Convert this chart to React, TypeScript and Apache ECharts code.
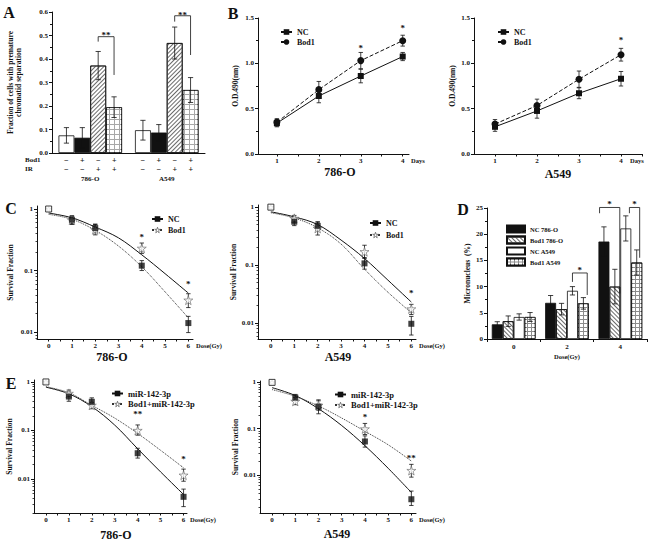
import React, { useEffect, useRef } from 'react';
import * as echarts from 'echarts';

const FONT = '"Liberation Serif", "Times New Roman", serif';
const INK = '#111111';
const GREY = '#666666';

// ---------- Panel A ----------
const aCategories = ['786-O', 'A549'];
const aSeriesNames = ['Bod1− IR−', 'Bod1+ IR−', 'Bod1− IR+', 'Bod1+ IR+'];
const aValues = [[0.075, 0.097], [0.065, 0.087], [0.372, 0.468], [0.195, 0.268]];
const aErrors = [[0.033, 0.042], [0.043, 0.034], [0.06, 0.068], [0.044, 0.053]];
const aBod1Row = ['−', '+', '−', '+'];
const aIRRow = ['−', '−', '+', '+'];
const aBrackets = [[0, 2, 3, 0.495, 0.474, 0.332], [1, 2, 3, 0.584, 0.559, 0.417]];
const aMarks = [[0, 2.5, 0.506], [1, 2.5, 0.592]];
const aMarkTexts = ['**', '**'];

// ---------- Panel B ----------
const bDays = [1, 2, 3, 4];
const b786NC = [0.34, 0.64, 0.86, 1.075];
const b786NCErr = [0.04, 0.075, 0.075, 0.045];
const b786Bod1 = [0.35, 0.71, 1.03, 1.25];
const b786Bod1Err = [0.04, 0.09, 0.09, 0.06];
const bA549NC = [0.3, 0.475, 0.67, 0.83];
const bA549NCErr = [0.05, 0.08, 0.06, 0.08];
const bA549Bod1 = [0.33, 0.535, 0.825, 1.095];
const bA549Bod1Err = [0.05, 0.07, 0.09, 0.07];
const b786Marks = [[3, 1.18], [4, 1.4]];
const bA549Marks = [[4, 1.27]];

// ---------- Panels C / E (survival) ----------
const cDoses = [0, 1, 2, 4, 6];
const fitDoses = [0, 1, 2, 3, 4, 5, 6];
const doseTicks = [0, 0.5, 1, 1.5, 2, 2.5, 3, 3.5, 4, 4.5, 5, 5.5, 6];

const c786NC = [1, 0.67, 0.49, 0.12, 0.014];
const c786NCLo = [1, 0.56, 0.42, 0.1, 0.0098];
const c786NCHi = [1, 0.78, 0.57, 0.145, 0.018];
const c786Bod1 = [1, 0.66, 0.46, 0.23, 0.033];
const c786Bod1Lo = [1, 0.58, 0.38, 0.19, 0.025];
const c786Bod1Hi = [1, 0.76, 0.56, 0.28, 0.042];
const c786NCFit = [0.86, 0.72, 0.51, 0.34, 0.18, 0.089, 0.043];
const c786Bod1Fit = [0.82, 0.68, 0.45, 0.25, 0.115, 0.045, 0.017];
const c786Marks = [[4, 0.37], [6, 0.062]];
const c786MarkTexts = ['*', '*'];

const cA549NC = [1, 0.56, 0.475, 0.107, 0.0097];
const cA549NCLo = [1, 0.48, 0.4, 0.085, 0.0062];
const cA549NCHi = [1, 0.64, 0.56, 0.135, 0.013];
const cA549Bod1 = [1, 0.64, 0.43, 0.17, 0.0175];
const cA549Bod1Lo = [1, 0.55, 0.33, 0.13, 0.014];
const cA549Bod1Hi = [1, 0.72, 0.55, 0.22, 0.021];
const cA549NCFit = [0.83, 0.68, 0.5, 0.27, 0.13, 0.055, 0.023];
const cA549Bod1Fit = [0.8, 0.65, 0.44, 0.23, 0.085, 0.034, 0.015];
const cA549Marks = [[6, 0.034]];
const cA549MarkTexts = ['*'];

const e786MiR = [1, 0.5, 0.39, 0.034, 0.0043];
const e786MiRLo = [1, 0.4, 0.33, 0.027, 0.0027];
const e786MiRHi = [1, 0.62, 0.47, 0.043, 0.0062];
const e786Bod1MiR = [1, 0.58, 0.33, 0.1, 0.012];
const e786Bod1MiRLo = [1, 0.5, 0.28, 0.08, 0.009];
const e786Bod1MiRHi = [1, 0.68, 0.38, 0.13, 0.016];
const e786MiRFit = [0.78, 0.57, 0.31, 0.129, 0.042, 0.014, 0.0048];
const e786Bod1MiRFit = [0.8, 0.6, 0.33, 0.18, 0.087, 0.039, 0.017];
const e786Marks = [[4, 0.23], [6, 0.0266]];
const e786MarkTexts = ['**', '*'];

const eA549MiR = [1, 0.47, 0.3, 0.053, 0.003];
const eA549MiRLo = [1, 0.4, 0.21, 0.04, 0.0022];
const eA549MiRHi = [1, 0.55, 0.42, 0.07, 0.0045];
const eA549Bod1MiR = [1, 0.39, 0.32, 0.099, 0.0125];
const eA549Bod1MiRLo = [1, 0.33, 0.25, 0.075, 0.009];
const eA549Bod1MiRHi = [1, 0.47, 0.4, 0.13, 0.017];
const eA549MiRFit = [0.77, 0.52, 0.27, 0.117, 0.043, 0.014, 0.0042];
const eA549Bod1MiRFit = [0.7, 0.5, 0.31, 0.17, 0.088, 0.045, 0.02];
const eA549Marks = [[4, 0.186], [6, 0.025]];
const eA549MarkTexts = ['*', '**'];

// ---------- Panel D ----------
const dCategories = ['0', '2', '4'];
const dSeriesNames = ['NC 786-O', 'Bod1 786-O', 'NC A549', 'Bod1 A549'];
const dValues = [[2.8, 6.9, 18.6], [3.4, 5.7, 10.0], [4.2, 9.2, 21.1], [4.2, 6.8, 14.6]];
const dErrors = [[0.5, 1.4, 2.8], [1.0, 1.1, 3.3], [0.6, 0.8, 2.4], [0.85, 1.1, 2.4]];
const dBrackets = [[1, 2, 3.35, 12.6, 10.9, 8.4], [2, -0.4, 1.45, 25.1, 24.0, 8.7], [2, 2.33, 3.27, 25.1, 24.0, 15.5]];
const dMarks = [[1, 2.67, 13.3], [2, 0.52, 25.9], [2, 2.8, 25.9]];
const dMarkTexts = ['*', '*', '*'];

const STAR = 'path://M50,2 L61,36 L97,36 L68,57 L79,92 L50,71 L21,92 L32,57 L3,36 L39,36 Z';
const L = (v: number) => Math.log10(v);

const txt = (size: number) => ({ fontFamily: FONT, fontWeight: 'bold' as const, fontSize: size, color: INK });
const axLine = { color: INK, width: 1 };

function errGroup(cx: number, y1: number, y2: number, cap = 2.2) {
  const st = { stroke: INK, lineWidth: 0.8 };
  if (Math.abs(y1 - y2) < 0.5) return { type: 'group', children: [] };
  return {
    type: 'group',
    children: [
      { type: 'line', shape: { x1: cx, y1, x2: cx, y2 }, style: st },
      { type: 'line', shape: { x1: cx - cap, y1, x2: cx + cap, y2: y1 }, style: st },
      { type: 'line', shape: { x1: cx - cap, y1: y2, x2: cx + cap, y2 }, style: st },
    ],
  };
}

function errSeries(g: number, pts: number[][]) {
  return {
    type: 'custom', xAxisIndex: g, yAxisIndex: g, silent: true, z: 3, data: pts,
    renderItem: (_p: any, api: any) => {
      const a = api.coord([api.value(0), api.value(1)]);
      const b = api.coord([api.value(0), api.value(2)]);
      return errGroup(a[0], a[1], b[1]);
    },
  };
}

function markSeries(g: number, pts: number[][], texts: string[], size = 9) {
  return {
    type: 'custom', xAxisIndex: g, yAxisIndex: g, silent: true, z: 6, data: pts,
    renderItem: (p: any, api: any) => {
      const c = api.coord([api.value(0), api.value(1)]);
      return {
        type: 'text', x: c[0], y: c[1] + 1,
        style: { text: texts[p.dataIndex], fill: INK, font: `bold ${size}px ${FONT}`, align: 'center', verticalAlign: 'middle' },
      };
    },
  };
}

function barX(api: any, ci: number, pos: number, n: number, gap: number) {
  const band = api.size([1, 0])[0];
  const w = (band * (1 - gap)) / n;
  return api.coord([ci, 0])[0] + (pos - (n - 1) / 2) * w;
}

function barErrSeries(g: number, values: number[][], errors: number[][], gap: number) {
  const n = values.length;
  const data: number[][] = [];
  values.forEach((vals, si) => vals.forEach((v, ci) => data.push([ci, v - errors[si][ci], v + errors[si][ci], si])));
  return {
    type: 'custom', xAxisIndex: g, yAxisIndex: g, silent: true, z: 4, data,
    renderItem: (_p: any, api: any) => {
      const ci = api.value(0);
      const cx = barX(api, ci, api.value(3), n, gap);
      const a = api.coord([ci, api.value(1)]);
      const b = api.coord([ci, api.value(2)]);
      return errGroup(cx, a[1], b[1], 2.6);
    },
  };
}

function bracketSeries(g: number, brackets: number[][], n: number, gap: number) {
  return {
    type: 'custom', xAxisIndex: g, yAxisIndex: g, silent: true, z: 5, data: brackets,
    renderItem: (_p: any, api: any) => {
      const ci = api.value(0);
      const xl = barX(api, ci, api.value(1), n, gap);
      const xr = barX(api, ci, api.value(2), n, gap);
      const yt = api.coord([ci, api.value(3)])[1];
      const yl = api.coord([ci, api.value(4)])[1];
      const yr = api.coord([ci, api.value(5)])[1];
      return {
        type: 'polyline',
        shape: { points: [[xl, yl], [xl, yt], [xr, yt], [xr, yr]] },
        style: { stroke: INK, lineWidth: 0.8, fill: 'none' },
      };
    },
  };
}

function barMarkSeries(g: number, marks: number[][], texts: string[], n: number, gap: number) {
  return {
    type: 'custom', xAxisIndex: g, yAxisIndex: g, silent: true, z: 6, data: marks,
    renderItem: (p: any, api: any) => {
      const ci = api.value(0);
      const x = barX(api, ci, api.value(1), n, gap);
      const y = api.coord([ci, api.value(2)])[1];
      return {
        type: 'text', x, y: y + 1,
        style: { text: texts[p.dataIndex], fill: INK, font: `bold 9px ${FONT}`, align: 'center', verticalAlign: 'middle' },
      };
    },
  };
}

function valueX(g: number, min: number, max: number, labels: number[], ticks: number[], name: string, nameGap: number) {
  return {
    type: 'value', gridIndex: g, min, max,
    axisLine: { show: true, onZero: false, lineStyle: axLine },
    axisTick: { show: true, length: 2.5, customValues: ticks, lineStyle: axLine },
    axisLabel: { customValues: labels, margin: 3, ...txt(7) },
    splitLine: { show: false },
    name, nameLocation: 'end', nameGap,
    nameTextStyle: { ...txt(6.5), verticalAlign: 'top', padding: [3, 0, 0, 0] },
  };
}

const logLabel = (v: number) => (Math.abs(v) < 1e-9 ? '1' : Math.abs(v + 1) < 1e-9 ? '0.1' : Math.abs(v + 2) < 1e-9 ? '0.01' : '');

function logY(g: number, min: number, max: number, nameGap: number) {
  return {
    type: 'value', gridIndex: g, min, max, position: 'left',
    axisLine: { show: true, onZero: false, lineStyle: axLine },
    axisTick: { show: true, length: 3, customValues: [-2, -1, 0], lineStyle: axLine },
    axisLabel: { customValues: [-2, -1, 0], formatter: logLabel, margin: 4, ...txt(7) },
    splitLine: { show: false },
    name: 'Survival Fraction', nameLocation: 'middle', nameGap,
    nameTextStyle: txt(7.5),
  };
}

function minorLogY(g: number, min: number, max: number) {
  const vals: number[] = [];
  for (let e = -3; e <= 0; e++) for (let k = 2; k <= 9; k++) {
    const v = e + Math.log10(k);
    if (v > min && v < max) vals.push(v);
  }
  return {
    type: 'value', gridIndex: g, min, max, position: 'left', offset: 0,
    axisLine: { show: false, onZero: false },
    axisTick: { show: true, length: 1.5, customValues: vals, lineStyle: { color: INK, width: 0.8 } },
    axisLabel: { show: false },
    splitLine: { show: false },
  };
}

function survival(g: number, names: string[], sq: number[], sqLo: number[], sqHi: number[], st: number[], stLo: number[], stHi: number[], fitSq: number[], fitSt: number[], marks: number[][], markTexts: string[]) {
  const errs: number[][] = [];
  cDoses.forEach((d, i) => { errs.push([d, L(sqLo[i]), L(sqHi[i])]); errs.push([d, L(stLo[i]), L(stHi[i])]); });
  return [
    {
      name: names[0], type: 'line', xAxisIndex: g, yAxisIndex: g, silent: true, z: 2,
      data: fitDoses.map((d, i) => [d, L(fitSq[i])]), smooth: 0.35, showSymbol: false,
      symbol: 'rect', symbolSize: 6, lineStyle: { color: INK, width: 1 }, itemStyle: { color: INK },
    },
    {
      name: names[1], type: 'line', xAxisIndex: g, yAxisIndex: g, silent: true, z: 2,
      data: fitDoses.map((d, i) => [d, L(fitSt[i])]), smooth: 0.35, showSymbol: false,
      symbol: STAR, symbolSize: 9, lineStyle: { color: '#333', width: 1, type: 'dotted' },
      itemStyle: { color: '#fff', borderColor: GREY, borderWidth: 0.8 },
    },
    errSeries(g, errs),
    {
      type: 'scatter', xAxisIndex: g, yAxisIndex: g, silent: true, z: 4, symbol: STAR,
      data: cDoses.map((d, i) => ({ value: [d, L(st[i])], symbolSize: i === 0 ? 5 : 9 })),
      itemStyle: { color: '#fff', borderColor: GREY, borderWidth: 0.8 },
    },
    {
      type: 'scatter', xAxisIndex: g, yAxisIndex: g, silent: true, z: 5, symbol: 'rect', symbolSize: 6,
      data: cDoses.map((d, i) => (i === 0
        ? { value: [d, L(sq[i])], itemStyle: { color: '#fff', borderColor: INK, borderWidth: 1 } }
        : { value: [d, L(sq[i])] })),
      itemStyle: { color: INK },
    },
    markSeries(g, marks.map((m) => [m[0], L(m[1])]), markTexts),
  ];
}

function growth(g: number, tag: string, nc: number[], ncErr: number[], bod: number[], bodErr: number[], marks: number[][]) {
  const errs: number[][] = [];
  bDays.forEach((d, i) => { errs.push([d, nc[i] - ncErr[i], nc[i] + ncErr[i]]); errs.push([d, bod[i] - bodErr[i], bod[i] + bodErr[i]]); });
  return [
    {
      name: 'NC@' + tag, type: 'line', xAxisIndex: g, yAxisIndex: g, silent: true, z: 3,
      data: bDays.map((d, i) => [d, nc[i]]), symbol: 'rect', symbolSize: 6,
      lineStyle: { color: INK, width: 1 }, itemStyle: { color: INK },
    },
    {
      name: 'Bod1@' + tag, type: 'line', xAxisIndex: g, yAxisIndex: g, silent: true, z: 3,
      data: bDays.map((d, i) => [d, bod[i]]), symbol: 'circle', symbolSize: 7,
      lineStyle: { color: INK, width: 1, type: 'dashed' }, itemStyle: { color: INK },
    },
    errSeries(g, errs),
    markSeries(g, marks, marks.map(() => '*')),
  ];
}

const diagDecal = (rot: number) => ({ symbol: 'rect', symbolSize: 1, color: '#6a6a6a', dashArrayX: [1, 0], dashArrayY: [1, 2], rotation: rot });
const gridDecal = (size: number) => ({ symbol: 'rect', symbolSize: 1, color: '#ffffff', dashArrayX: [size, 1], dashArrayY: [size, 1], rotation: 0 });

const aStyles = [
  { color: '#fff' },
  { color: INK },
  { color: '#fff', decal: diagDecal(-Math.PI / 4) },
  { color: '#a8a8a8', decal: gridDecal(3.5) },
];
const dStyles = [
  { color: INK },
  { color: '#fff', decal: diagDecal(Math.PI / 4) },
  { color: '#fff' },
  { color: '#8c8c8c', decal: gridDecal(3) },
];

function legendAt(left: number, top: number, data: any[], fontSize: number, itemWidth: number, itemGap: number, icon?: string) {
  return {
    left, top, orient: 'vertical', padding: 0, itemWidth, itemHeight: 7, itemGap, selectedMode: false,
    icon, data, formatter: (n: string) => n.split('@')[0],
    textStyle: { ...txt(fontSize), padding: 0 },
  };
}

function gtext(text: string, x: number, y: number, size: number, align = 'center') {
  return { type: 'text', x, y, silent: true, style: { text, fill: INK, font: `bold ${size}px ${FONT}`, align, verticalAlign: 'middle' } };
}

function buildOption(): any {
  const grid = (left: number, top: number, width: number, height: number) => ({ left, top, width, height, containLabel: false, outerBoundsMode: 'none' });
  const yName = (name: string, gap: number) => ({ name, nameLocation: 'middle', nameGap: gap, nameTextStyle: { ...txt(7.5), lineHeight: 8.5 } });

  const C1 = [-2.113, 0.049], C2 = [-2.276, 0.037], E1 = [-2.7, 0.04], E2 = [-2.82, 0.03];

  const xAxis = [
    {
      type: 'category', gridIndex: 0, data: aCategories,
      axisLine: { show: true, lineStyle: axLine }, axisTick: { show: false },
      axisLabel: {
        interval: 0, margin: 3, color: INK,
        formatter: (v: string) => `{s|${aBod1Row.join('}{s|')}}\n{s|${aIRRow.join('}{s|')}}\n{g|${v}}`,
        rich: {
          s: { width: 16, align: 'center', fontSize: 8, lineHeight: 9, fontFamily: FONT, fontWeight: 'bold', color: INK },
          g: { fontSize: 7, lineHeight: 10, fontFamily: FONT, fontWeight: 'bold', color: INK },
        },
      },
    },
    valueX(1, 0.55, 4.15, bDays, [1, 1.5, 2, 2.5, 3, 3.5, 4], 'Days', 2),
    valueX(2, 0.5, 4.5, bDays, [1, 1.5, 2, 2.5, 3, 3.5, 4, 4.5], 'Days', -12),
    valueX(3, -0.5, 6.2, fitDoses, doseTicks, 'Dose(Gy)', 3),
    valueX(4, -0.55, 6.2, fitDoses, doseTicks, 'Dose(Gy)', 3),
    {
      type: 'category', gridIndex: 5, data: dCategories,
      axisLine: { show: true, lineStyle: axLine }, axisTick: { show: true, length: 3, lineStyle: axLine },
      axisLabel: { margin: 4, ...txt(7) },
      name: 'Dose(Gy)', nameLocation: 'middle', nameGap: 14, nameTextStyle: txt(6.5),
    },
    valueX(6, -0.52, 6.15, fitDoses, doseTicks, 'Dose(Gy)', 3),
    valueX(7, -0.52, 6.2, fitDoses, doseTicks, 'Dose(Gy)', 3),
  ];

  const linY = (g: number, max: number, interval: number, fmt: (v: number) => string, name: string, gap: number) => ({
    type: 'value', gridIndex: g, min: 0, max, interval, position: 'left',
    axisLine: { show: true, onZero: false, lineStyle: axLine },
    axisTick: { show: true, length: 3, lineStyle: axLine },
    minorTick: { show: true, splitNumber: 2, length: 2, lineStyle: axLine },
    axisLabel: { formatter: fmt, margin: 4, ...txt(7) },
    splitLine: { show: false },
    ...yName(name, gap),
  });

  const yAxis = [
    linY(0, 0.6, 0.1, (v) => v.toFixed(1), 'Fraction of cells with premature\nchromatid separation', 29),
    linY(1, 1.5, 0.5, (v) => v.toFixed(1), 'O.D.490(nm)', 18),
    linY(2, 1.5, 0.5, (v) => v.toFixed(1), 'O.D.490(nm)', 17),
    logY(3, C1[0], C1[1], 23),
    logY(4, C2[0], C2[1], 18),
    linY(5, 25, 5, (v) => String(Math.round(v)), 'Micronucleus  (%)', 14),
    logY(6, E1[0], E1[1], 20),
    logY(7, E2[0], E2[1], 14),
    minorLogY(3, C1[0], C1[1]),
    minorLogY(4, C2[0], C2[1]),
    minorLogY(6, E1[0], E1[1]),
    minorLogY(7, E2[0], E2[1]),
  ];

  const series: any[] = [];
  // A
  aValues.forEach((vals, i) => series.push({
    name: aSeriesNames[i], type: 'bar', xAxisIndex: 0, yAxisIndex: 0, data: vals, silent: true,
    barGap: '0%', barCategoryGap: '17%', z: 2,
    itemStyle: { ...aStyles[i], borderColor: INK, borderWidth: 0.8 },
  }));
  series.push(barErrSeries(0, aValues, aErrors, 0.17));
  series.push(bracketSeries(0, aBrackets, 4, 0.17));
  series.push(barMarkSeries(0, aMarks, aMarkTexts, 4, 0.17));
  // B
  series.push(...growth(1, 'B1', b786NC, b786NCErr, b786Bod1, b786Bod1Err, b786Marks));
  series.push(...growth(2, 'B2', bA549NC, bA549NCErr, bA549Bod1, bA549Bod1Err, bA549Marks));
  // C
  series.push(...survival(3, ['NC@C1', 'Bod1@C1'], c786NC, c786NCLo, c786NCHi, c786Bod1, c786Bod1Lo, c786Bod1Hi, c786NCFit, c786Bod1Fit, c786Marks, c786MarkTexts));
  series.push(...survival(4, ['NC@C2', 'Bod1@C2'], cA549NC, cA549NCLo, cA549NCHi, cA549Bod1, cA549Bod1Lo, cA549Bod1Hi, cA549NCFit, cA549Bod1Fit, cA549Marks, cA549MarkTexts));
  // D
  dValues.forEach((vals, i) => series.push({
    name: dSeriesNames[i] + '@D', type: 'bar', xAxisIndex: 5, yAxisIndex: 5, data: vals, silent: true,
    barGap: '0%', barCategoryGap: '18%', z: 2,
    itemStyle: { ...dStyles[i], borderColor: INK, borderWidth: 0.8 },
  }));
  series.push(barErrSeries(5, dValues, dErrors, 0.18));
  series.push(bracketSeries(5, dBrackets, 4, 0.18));
  series.push(barMarkSeries(5, dMarks, dMarkTexts, 4, 0.18));
  // E
  series.push(...survival(6, ['miR-142-3p@E1', 'Bod1+miR-142-3p@E1'], e786MiR, e786MiRLo, e786MiRHi, e786Bod1MiR, e786Bod1MiRLo, e786Bod1MiRHi, e786MiRFit, e786Bod1MiRFit, e786Marks, e786MarkTexts));
  series.push(...survival(7, ['miR-142-3p@E2', 'Bod1+miR-142-3p@E2'], eA549MiR, eA549MiRLo, eA549MiRHi, eA549Bod1MiR, eA549Bod1MiRLo, eA549Bod1MiRHi, eA549MiRFit, eA549Bod1MiRFit, eA549Marks, eA549MarkTexts));

  const starLegendItem = (name: string) => ({ name, itemStyle: { borderWidth: 0.8 } });

  const legend = [
    legendAt(280, 28, ['NC@B1', 'Bod1@B1'], 8, 11, 2),
    legendAt(497, 28, ['NC@B2', 'Bod1@B2'], 8, 11, 2),
    legendAt(151, 215, [{ name: 'NC@C1' }, starLegendItem('Bod1@C1')], 8, 11, 3),
    legendAt(369, 219, [{ name: 'NC@C2' }, starLegendItem('Bod1@C2')], 8, 11, 4),
    legendAt(506, 224.5, dSeriesNames.map((n) => n + '@D'), 6.5, 18, 2, 'rect'),
    legendAt(111, 389, [{ name: 'miR-142-3p@E1' }, starLegendItem('Bod1+miR-142-3p@E1')], 8.5, 11, 1.5),
    legendAt(334, 390, [{ name: 'miR-142-3p@E2' }, starLegendItem('Bod1+miR-142-3p@E2')], 8.5, 11, 1.5),
  ];

  const graphic = [
    gtext('A', 9, 12, 16), gtext('B', 233, 13, 16), gtext('C', 11, 208, 16), gtext('D', 463, 209, 16), gtext('E', 11, 383, 16),
    gtext('786-O', 340, 172, 12), gtext('A549', 558, 174, 12),
    gtext('786-O', 112, 357, 12), gtext('A549', 338, 357, 12),
    gtext('786-O', 116, 535, 12), gtext('A549', 337, 534, 12),
    gtext('Bod1', 25, 160, 7, 'left'), gtext('IR', 25, 169, 7, 'left'),
  ];

  return {
    animation: false,
    backgroundColor: '#ffffff',
    textStyle: { fontFamily: FONT },
    grid: [
      grid(52, 12, 153, 141),
      grid(258, 18, 151, 136),
      grid(474, 18, 168, 136),
      grid(37, 206, 156, 133),
      grid(258, 205, 158, 134),
      grid(487, 208, 160, 131),
      grid(34, 380, 153, 133),
      grid(260, 381, 156, 132),
    ],
    xAxis, yAxis, series, legend, graphic,
  };
}

export default function App() {
  const ref = useRef<HTMLDivElement>(null);
  useEffect(() => {
    const chart = echarts.init(ref.current as HTMLDivElement, null, { renderer: 'svg' });
    chart.setOption(buildOption());
    return () => chart.dispose();
  }, []);
  return <div ref={ref} style={{ position: 'fixed', left: 0, top: 0, width: 650, height: 546, background: '#fff' }} />;
}
